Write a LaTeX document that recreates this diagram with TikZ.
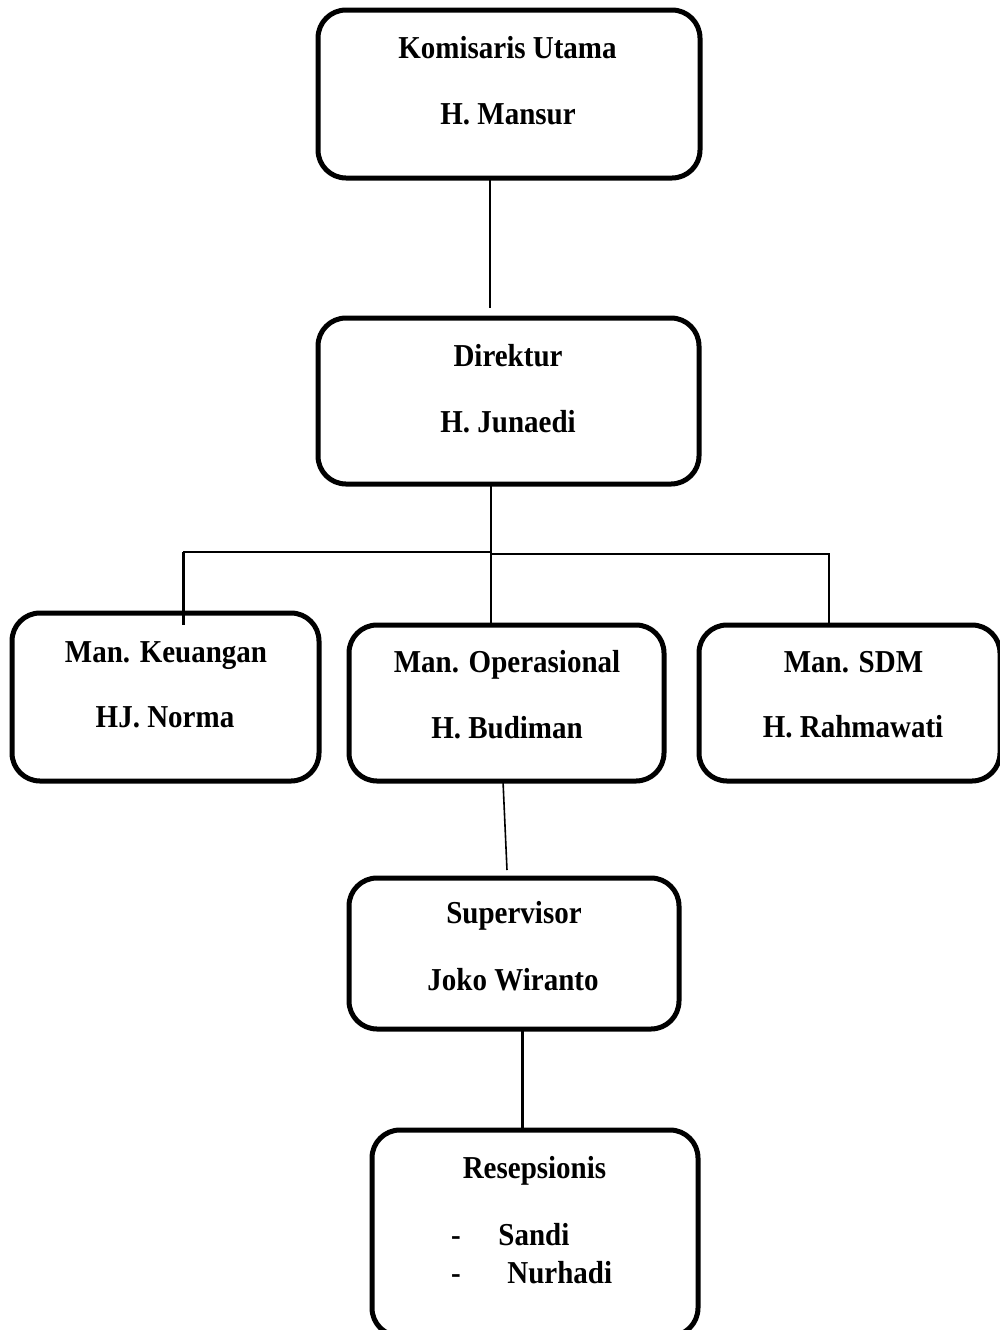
\documentclass[tikz,border=0pt]{standalone}
\usepackage{fontspec}
\usepackage{graphicx}
\setmainfont{Liberation Serif}
\newcommand\stretchtxt[1]{\scalebox{1}[1.1]{#1}}
\begin{document}
\begin{tikzpicture}[x=0.5pt,y=-0.5pt,
  box/.style={draw, line width=2.5pt, rounded corners=14pt, rectangle, inner sep=0pt, outer sep=0pt},
  lbl/.style={anchor=base, inner sep=0pt, font=\fontsize{14.5}{17}\selectfont\bfseries},
  conn/.style={line width=1pt},
  connthick/.style={line width=1.5pt}]
\useasboundingbox (0,0) rectangle (1000,1330);
\clip (0,0) rectangle (1000,1330);
\fill[white] (0,0) rectangle (1000,1330);

% boxes
\node[box, minimum width=191pt, minimum height=84pt] (kom) at (509,94) {};
\node[box, minimum width=190.5pt, minimum height=83pt] (dir) at (508.5,401) {};
\node[box, minimum width=153.5pt, minimum height=84pt] (keu) at (165.5,697) {};
\node[box, minimum width=157.5pt, minimum height=78pt] (ops) at (506.5,703) {};
\node[box, minimum width=150.5pt, minimum height=78pt] (sdm) at (849.5,703) {};
\node[box, minimum width=165pt, minimum height=75.5pt] (sup) at (514,953.5) {};
\node[box, minimum width=163pt, minimum height=103pt] (res) at (535,1233) {};

% labels
\node[lbl] (t1a) at (507.5,58) {\stretchtxt{Komisaris Utama}};
\node[lbl] (t1b) at (508,124) {\stretchtxt{H. Mansur}};
\node[lbl] (t2a) at (508,366) {\stretchtxt{Direktur}};
\node[lbl] (t2b) at (508,432) {\stretchtxt{H. Junaedi}};
\node[lbl] (t3a) at (166,662) {\stretchtxt{Man. Keuangan}};
\node[lbl] (t3b) at (165,727) {\stretchtxt{HJ. Norma}};
\node[lbl] (t4a) at (507,672) {\stretchtxt{Man. Operasional}};
\node[lbl] (t4b) at (507,738) {\stretchtxt{H. Budiman}};
\node[lbl] (t5a) at (853.5,672) {\stretchtxt{Man. SDM}};
\node[lbl] (t5b) at (853,737) {\stretchtxt{H. Rahmawati}};
\node[lbl] (t6a) at (514,923) {\stretchtxt{Supervisor}};
\node[lbl] (t6b) at (513,990) {\stretchtxt{Joko Wiranto}};
\node[lbl] (t7a) at (534.5,1178) {\stretchtxt{Resepsionis}};
\node[lbl] (d1) at (456,1245) {\stretchtxt{-}};
\node[lbl, anchor=base west] (t7b) at (498,1245) {\stretchtxt{Sandi}};
\node[lbl] (d2) at (456,1283) {\stretchtxt{-}};
\node[lbl, anchor=base west] (t7c) at (507,1283) {\stretchtxt{Nurhadi}};

% connectors
\coordinate (c1) at (490,308);
\draw[conn] (kom.south -| c1) -- (c1);

\coordinate (j) at (491,552);
\draw[conn] (dir.south -| j) -- (ops.north -| j);
\coordinate (jl) at (183,552);
\coordinate (kl) at (183,625);
\draw[conn] (j) -- (jl);
\draw[connthick] (jl) -- (kl);
\coordinate (jr) at (829,554);
\draw[conn] (j |- jr) -- (jr) -- (sdm.north -| jr);

\coordinate (s2) at (507,870);
\draw[line width=0.8pt] (ops.south) ++(-3.5,0) -- (s2);

\coordinate (r1) at (522,1130);
\draw[connthick] (sup.south -| r1) -- (res.north -| r1);
\end{tikzpicture}
\end{document}
